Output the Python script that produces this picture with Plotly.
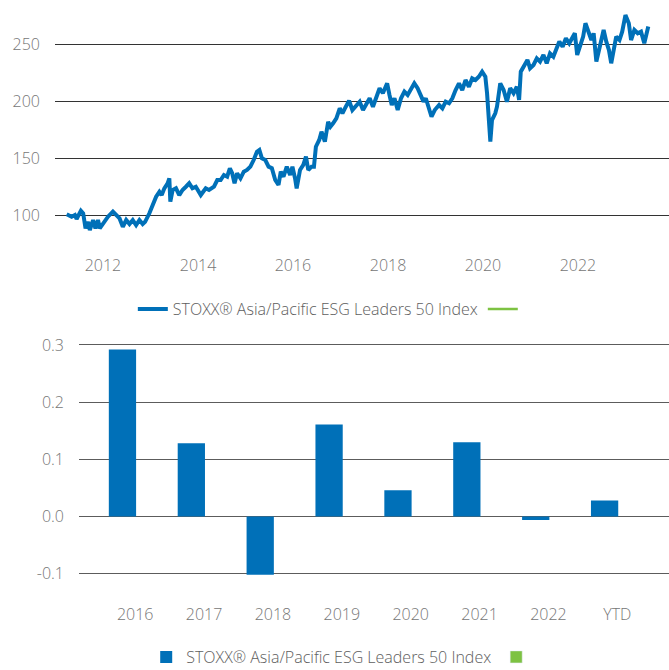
import plotly.graph_objects as go
from datetime import datetime, timedelta

# ---- Data: index level, dates given as decimal years ----
line_years = [
    2011.235, 2011.339, 2011.408, 2011.444, 2011.534, 2011.582, 2011.632, 2011.686, 2011.722, 2011.791,
    2011.841, 2011.895, 2011.931, 2012.000, 2012.105, 2012.209, 2012.280, 2012.349, 2012.418, 2012.489,
    2012.558, 2012.627, 2012.698, 2012.767, 2012.836, 2012.887, 2012.977, 2013.046, 2013.117, 2013.186,
    2013.234, 2013.290, 2013.359, 2013.395, 2013.416, 2013.464, 2013.535, 2013.604, 2013.673, 2013.744,
    2013.813, 2013.882, 2013.953, 2014.058, 2014.162, 2014.231, 2014.336, 2014.405, 2014.476, 2014.545,
    2014.614, 2014.670, 2014.719, 2014.769, 2014.823, 2014.894, 2014.963, 2015.032, 2015.103, 2015.172,
    2015.241, 2015.292, 2015.346, 2015.417, 2015.486, 2015.555, 2015.626, 2015.695, 2015.743, 2015.800,
    2015.869, 2015.940, 2015.988, 2016.044, 2016.078, 2016.149, 2016.218, 2016.274, 2016.322, 2016.391,
    2016.442, 2016.483, 2016.553, 2016.601, 2016.672, 2016.741, 2016.789, 2016.845, 2016.914, 2016.985,
    2017.040, 2017.111, 2017.180, 2017.249, 2017.332, 2017.403, 2017.473, 2017.542, 2017.613, 2017.682,
    2017.751, 2017.822, 2017.891, 2017.981, 2018.031, 2018.079, 2018.136, 2018.204, 2018.274, 2018.345,
    2018.414, 2018.483, 2018.554, 2018.623, 2018.679, 2018.748, 2018.796, 2018.846, 2018.916, 2018.984,
    2019.077, 2019.146, 2019.215, 2019.286, 2019.355, 2019.424, 2019.495, 2019.564, 2019.633, 2019.704,
    2019.773, 2019.842, 2019.913, 2019.982, 2020.051, 2020.087, 2020.122, 2020.156, 2020.191, 2020.260,
    2020.296, 2020.365, 2020.436, 2020.505, 2020.574, 2020.645, 2020.714, 2020.762, 2020.797, 2020.866,
    2020.937, 2020.992, 2021.063, 2021.132, 2021.201, 2021.272, 2021.341, 2021.410, 2021.481, 2021.550,
    2021.607, 2021.676, 2021.745, 2021.816, 2021.885, 2021.933, 2021.983, 2022.038, 2022.109, 2022.157,
    2022.213, 2022.282, 2022.330, 2022.387, 2022.443, 2022.491, 2022.540, 2022.596, 2022.652, 2022.700,
    2022.757, 2022.805, 2022.874, 2022.931, 2023.000, 2023.071, 2023.119, 2023.188, 2023.259, 2023.328,
    2023.397, 2023.432, 2023.481,
]
line_values = [
    100.6, 98.5, 100.0, 96.5, 103.8, 101.5, 88.3, 94.0, 86.8, 95.6,
    88.3, 95.6, 88.3, 92.7, 98.5, 102.9, 100.0, 97.0, 89.7, 95.6,
    92.1, 95.6, 91.2, 95.6, 92.1, 94.0, 101.5, 108.8, 116.0, 120.4,
    117.5, 123.4, 127.8, 132.2, 111.7, 121.9, 123.4, 117.5, 121.9, 124.8,
    127.8, 123.4, 124.8, 117.5, 123.4, 121.9, 124.8, 130.7, 130.7, 135.1,
    133.6, 141.0, 136.6, 127.8, 136.6, 132.2, 138.0, 139.5, 142.4, 148.2,
    155.5, 157.0, 149.7, 148.2, 142.4, 141.0, 130.7, 126.3, 138.0, 133.6,
    142.4, 135.1, 142.4, 132.2, 123.4, 139.5, 143.9, 151.2, 139.5, 142.4,
    142.4, 159.9, 165.8, 173.1, 164.3, 181.8, 177.5, 180.4, 184.8, 193.6,
    189.2, 195.0, 200.3, 192.1, 196.5, 199.4, 192.1, 196.5, 202.4, 195.0,
    203.8, 211.2, 206.8, 215.5, 205.3, 196.5, 202.4, 192.1, 202.4, 208.2,
    205.3, 211.2, 215.5, 211.2, 205.3, 199.4, 202.4, 195.0, 186.2, 192.1,
    196.5, 193.6, 199.4, 198.0, 202.4, 209.6, 215.5, 209.6, 218.4, 212.5,
    219.9, 218.4, 221.3, 225.7, 221.3, 206.8, 186.2, 164.3, 183.3, 189.2,
    195.0, 215.5, 209.6, 199.4, 211.2, 206.8, 212.5, 200.9, 225.7, 230.1,
    236.0, 228.7, 231.6, 237.4, 234.5, 240.4, 233.1, 241.8, 238.9, 246.2,
    252.1, 247.6, 255.0, 250.6, 256.5, 259.4, 240.4, 247.6, 256.5, 268.2,
    260.8, 253.5, 259.4, 234.5, 244.7, 255.0, 262.3, 252.1, 244.7, 233.1,
    247.6, 256.5, 253.5, 260.8, 275.4, 268.2, 253.5, 262.3, 259.4, 260.8,
    250.6, 256.5, 265.3,
]

# ---- Data: annual returns ----
bar_categories = ["2016", "2017", "2018", "2019", "2020", "2021", "2022", "YTD"]
bar_values = [0.292, 0.128, -0.102, 0.161, 0.046, 0.130, -0.006, 0.028]

series_name = "STOXX® Asia/Pacific ESG Leaders 50 Index"
benchmark_name = " "
benchmark_line_values = [None]
benchmark_bar_values = [None]

y_ticks_top = [100, 150, 200, 250]
y_ticks_bottom = [-0.1, 0.0, 0.1, 0.2, 0.3]
y_ticktext_bottom = ["-0.1", "0.0", "0.1", "0.2", "0.3"]

BLUE = "#0070B8"
GREEN = "#7DC242"
TICK_GREY = "#767676"
FONT = "Open Sans"
FS = 16


def dec_to_date(d):
    y = int(d)
    return datetime(y, 1, 1) + timedelta(days=(d - y) * 365.25)


line_dates = [dec_to_date(d) for d in line_years]

fig = go.Figure()

fig.add_trace(go.Scatter(
    x=line_dates, y=line_values, mode="lines", name=series_name,
    line=dict(color=BLUE, width=4), xaxis="x", yaxis="y", legend="legend",
))
fig.add_trace(go.Scatter(
    x=[line_dates[-1]], y=benchmark_line_values, mode="lines", name=benchmark_name,
    line=dict(color=GREEN, width=2.5), xaxis="x", yaxis="y", legend="legend",
    showlegend=True,
))

fig.add_trace(go.Bar(
    x=bar_categories, y=bar_values, name=series_name, marker=dict(color=BLUE, line=dict(width=0)),
    offset=-0.383, width=0.396, xaxis="x2", yaxis="y2", legend="legend2",
))
fig.add_trace(go.Bar(
    x=[bar_categories[-1]], y=benchmark_bar_values, name=benchmark_name, marker=dict(color=GREEN),
    xaxis="x2", yaxis="y2", legend="legend2", showlegend=True,
))

H = 670.0
W = 669.0

fig.update_layout(
    width=669, height=670, autosize=False,
    margin=dict(l=0, r=0, t=0, b=0, pad=0, autoexpand=False),
    paper_bgcolor="white", plot_bgcolor="white",
    font=dict(family=FONT, size=FS, color=TICK_GREY, weight=300),
    showlegend=True,
    xaxis=dict(
        domain=[55 / W, 1.0], anchor="y", type="date",
        range=["2010-12-28", "2023-12-02"],
        tick0="2012-01-01", dtick="M24", tickformat="%Y",
        showgrid=False, zeroline=False, showline=False, ticks="",
        tickfont=dict(family=FONT, size=FS, color=TICK_GREY),
        ticklabelstandoff=10,
    ),
    yaxis=dict(
        domain=[1 - 243.5 / H, 1 - 9.8 / H], anchor="x",
        range=[75, 280], tickvals=y_ticks_top,
        showgrid=True, gridcolor="#333333", gridwidth=1,
        zeroline=False, showline=False, ticks="",
        tickfont=dict(family=FONT, size=FS, color=TICK_GREY),
        ticklabelstandoff=14,
    ),
    xaxis2=dict(
        domain=[79 / W, 1.0], anchor="y2", type="category",
        range=[-0.816, 7.75],
        showgrid=False, zeroline=False, showline=False, ticks="",
        tickfont=dict(family=FONT, size=FS, color=TICK_GREY),
        ticklabelstandoff=6,
    ),
    yaxis2=dict(
        domain=[1 - 596.6 / H, 1 - 333.5 / H], anchor="x2",
        range=[-0.14, 0.32], tickvals=y_ticks_bottom, ticktext=y_ticktext_bottom,
        showgrid=True, gridcolor="#5c5c5c", gridwidth=1.3,
        zeroline=False, showline=False, ticks="",
        tickfont=dict(family=FONT, size=FS, color=TICK_GREY),
        ticklabelstandoff=14,
    ),
    legend=dict(
        orientation="h", x=0.4975, xanchor="center", y=1 - 309 / H, yanchor="middle",
        font=dict(family=FONT, size=FS, color="#5e5e5e"),
        bgcolor="rgba(0,0,0,0)",
    ),
    legend2=dict(
        orientation="h", x=0.5175, xanchor="center", y=1 - 657 / H, yanchor="middle",
        font=dict(family=FONT, size=FS, color="#5e5e5e"),
        bgcolor="rgba(0,0,0,0)",
    ),
    bargap=0.2,
)

fig.write_html(
    "out.html",
    config={"displayModeBar": False},
    post_script=(
        "document.body.style.margin='0';document.body.style.overflow='hidden';"
        "document.documentElement.style.overflow='hidden';"
    ),
)
